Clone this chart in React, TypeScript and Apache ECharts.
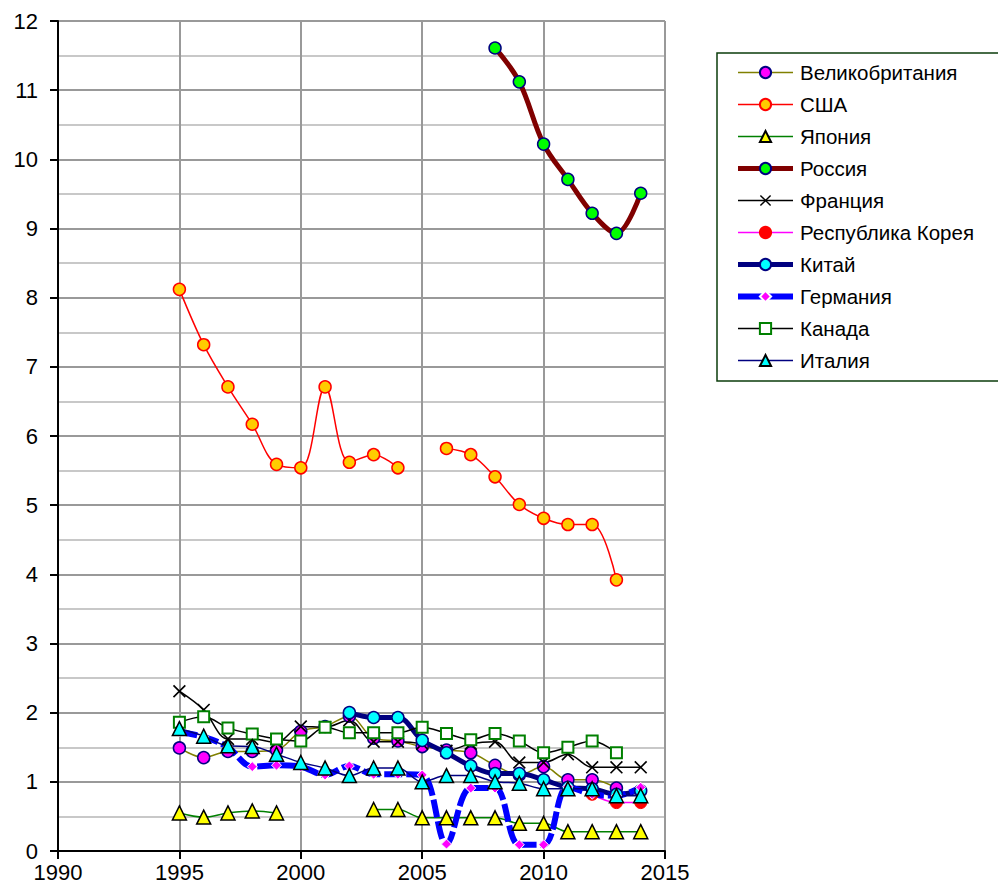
import React, { useEffect, useRef } from "react";
import * as echarts from "echarts";

const years = [1995, 1996, 1997, 1998, 1999, 2000, 2001, 2002, 2003, 2004, 2005, 2006, 2007, 2008, 2009, 2010, 2011, 2012, 2013, 2014];

const uk = [1.49, 1.35, 1.44, 1.44, 1.46, 1.73, 1.8, 1.95, 1.63, 1.59, 1.51, 1.46, 1.42, 1.24, 1.1, 1.22, 1.03, 1.03, 0.91, null];
const usa = [8.12, 7.32, 6.71, 6.17, 5.59, 5.54, 6.71, 5.62, 5.73, 5.54, null, 5.82, 5.73, 5.41, 5.01, 4.81, 4.72, 4.72, 3.92, null];
const japan = [0.55, 0.49, 0.55, 0.58, 0.55, null, null, null, 0.6, 0.6, 0.48, 0.48, 0.48, 0.48, 0.4, 0.4, 0.28, 0.28, 0.28, 0.28];
const russia = [null, null, null, null, null, null, null, null, null, null, null, null, null, 11.61, 11.12, 10.22, 9.71, 9.22, 8.93, 9.51];
const france = [2.31, 2.04, 1.62, 1.62, 1.57, 1.8, 1.79, 1.89, 1.58, 1.58, 1.55, 1.45, 1.55, 1.58, 1.28, 1.28, 1.4, 1.21, 1.21, 1.21];
const korea = [null, null, null, null, null, null, null, null, null, null, null, null, null, null, null, null, null, 0.82, 0.7, 0.7];
const china = [null, null, null, null, null, null, null, 2.0, 1.93, 1.93, 1.6, 1.42, 1.23, 1.12, 1.12, 1.03, 0.92, 0.9, 0.82, 0.87];
const germany = [1.72, 1.65, 1.5, 1.22, 1.24, 1.22, 1.1, 1.23, 1.11, 1.11, 1.1, 0.1, 0.91, 0.91, 0.09, 0.09, 0.93, 0.82, 0.8, 0.92];
const canada = [1.86, 1.94, 1.78, 1.69, 1.62, 1.59, 1.79, 1.71, 1.71, 1.71, 1.79, 1.7, 1.61, 1.7, 1.59, 1.42, 1.5, 1.59, 1.42, null];
const italy = [1.77, 1.66, 1.52, 1.51, 1.4, 1.28, 1.2, 1.09, 1.2, 1.2, 1.0, 1.09, 1.09, 1.0, 0.98, 0.9, 0.9, 0.9, 0.8, 0.8];

const xTicks = { min: 1990, max: 2015, interval: 5 };
const yTicks = { min: 0, max: 12, interval: 1 };

const FONT = "'Liberation Sans', Arial, sans-serif";
const CROSS = "path://M0,0.9 L0.9,0 L10,9.1 L9.1,10 Z M9.1,0 L10,0.9 L0.9,10 L0,9.1 Z";

function pts(vals: (number | null)[]) {
  return years.map((y, i) => [y, vals[i] === null ? null : vals[i]]);
}

export default function App() {
  const ref = useRef<HTMLDivElement>(null);
  useEffect(() => {
    if (!ref.current) return;
    const chart = echarts.init(ref.current, null, { renderer: "svg" });
    const mk = (
      name: string,
      vals: (number | null)[],
      line: any,
      symbol: string,
      symbolSize: number,
      item: any
    ) => ({
      name,
      type: "line",
      data: pts(vals),
      smooth: 0.35,
      connectNulls: false,
      symbol,
      symbolSize,
      showAllSymbol: true,
      lineStyle: line,
      itemStyle: item,
      emphasis: { disabled: true },
    });
    const series = [
      mk("Великобритания", uk, { color: "#808000", width: 1.5 }, "circle", 12, { color: "#ff00ff", borderColor: "#000080", borderWidth: 1.5 }),
      mk("США", usa, { color: "#ff0000", width: 1.5 }, "circle", 12, { color: "#ffcc00", borderColor: "#ff0000", borderWidth: 1.5 }),
      mk("Япония", japan, { color: "#008000", width: 1.5 }, "triangle", 14, { color: "#ffff00", borderColor: "#000000", borderWidth: 1.5 }),
      mk("Россия", russia, { color: "#800000", width: 5 }, "circle", 12, { color: "#00ff00", borderColor: "#000080", borderWidth: 1.5 }),
      mk("Франция", france, { color: "#000000", width: 1.5 }, CROSS, 13, { color: "#000000", borderWidth: 0 }),
      mk("Республика Корея", korea, { color: "#ff00ff", width: 1.5 }, "circle", 12, { color: "#ff0000", borderColor: "#ff0000", borderWidth: 1 }),
      mk("Китай", china, { color: "#000080", width: 5 }, "circle", 12, { color: "#00ffff", borderColor: "#000080", borderWidth: 1.5 }),
      mk("Германия", germany, { color: "#0000ff", width: 6, type: [18, 4] }, "diamond", 10, { color: "#ff00ff", borderColor: "#ffffff", borderWidth: 1 }),
      mk("Канада", canada, { color: "#000000", width: 1.5 }, "rect", 11, { color: "#ffffff", borderColor: "#008000", borderWidth: 2 }),
      mk("Италия", italy, { color: "#000080", width: 1.5 }, "triangle", 14, { color: "#00ffff", borderColor: "#000000", borderWidth: 1.5 }),
    ];
    const legendData = series.map((s) => ({
      name: s.name,
      lineStyle: { width: s.lineStyle.width, type: "solid" },
    }));
    chart.setOption({
      animation: false,
      backgroundColor: "#ffffff",
      textStyle: { fontFamily: FONT },
      grid: { left: 58, right: 333, top: 21, bottom: 39, containLabel: false },
      legend: {
        orient: "vertical",
        left: 717,
        top: 53,
        itemWidth: 55,
        itemHeight: 14,
        itemGap: 11,
        padding: [9, 25, 10, 18],
        borderColor: "#0b3d0b",
        borderWidth: 1.5,
        backgroundColor: "#ffffff",
        selectedMode: false,
        textStyle: { fontSize: 20.5, color: "#000000", fontFamily: FONT, padding: [0, 0, 0, 2] },
        data: legendData,
      },
      xAxis: {
        type: "value",
        min: xTicks.min,
        max: xTicks.max,
        interval: xTicks.interval,
        axisLine: { show: true, onZero: false, lineStyle: { color: "#000000", width: 2 } },
        axisTick: { show: true, length: 8, lineStyle: { color: "#000000", width: 2 } },
        axisLabel: { fontSize: 22, color: "#000000", margin: 10, fontFamily: FONT, formatter: (v: number) => String(v) },
        splitLine: { show: true, lineStyle: { color: "#999999", width: 2 } },
      },
      yAxis: {
        type: "value",
        min: yTicks.min,
        max: yTicks.max,
        interval: yTicks.interval,
        axisLine: { show: true, lineStyle: { color: "#000000", width: 2 } },
        axisTick: { show: true, length: 8, lineStyle: { color: "#000000", width: 2 } },
        axisLabel: { fontSize: 22, color: "#000000", margin: 20, fontFamily: FONT },
        splitLine: { show: true, lineStyle: { color: "#999999", width: 2 } },
        minorTick: { show: false, splitNumber: 2 },
        minorSplitLine: { show: true, lineStyle: { color: "#c8c8c8", width: 2 } },
      },
      series,
    });
    return () => chart.dispose();
  }, []);
  return (
    <div
      ref={ref}
      style={{ position: "absolute", left: 0, top: 0, width: 998, height: 890, background: "#fff" }}
    />
  );
}
